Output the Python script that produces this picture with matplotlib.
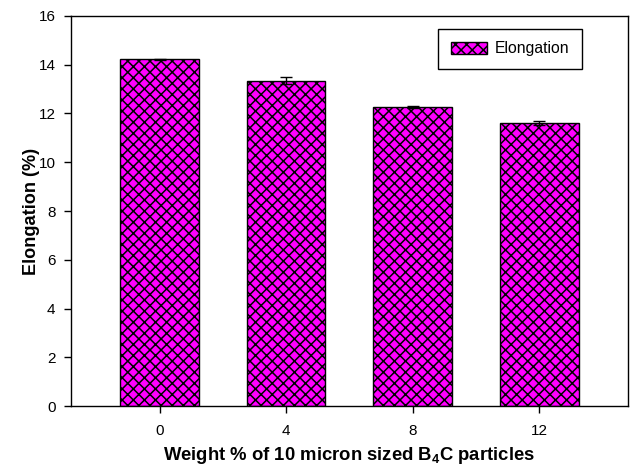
import matplotlib
matplotlib.use('Agg')
import matplotlib.pyplot as plt
import numpy as np

plt.rcParams['font.family'] = ['Liberation Sans', 'DejaVu Sans']
plt.rcParams['mathtext.fontset'] = 'custom'
plt.rcParams['mathtext.rm'] = 'Liberation Sans:bold'
plt.rcParams['mathtext.bf'] = 'Liberation Sans:bold'
plt.rcParams['hatch.linewidth'] = 1.1
plt.rcParams['hatch.color'] = 'black'

weight_pct = ['0', '4', '8', '12']
elongation = [14.22, 13.35, 12.27, 11.61]
elong_err = [0.02, 0.13, 0.03, 0.08]

fig = plt.figure(figsize=(6.33, 4.69), dpi=100)
ax = fig.add_axes([0.112, 0.134, 0.88, 0.832])

x = np.arange(len(weight_pct))
ax.bar(x, elongation, width=0.62, color='#ff00ff', edgecolor='black',
       linewidth=1.0, hatch='xxx', label='Elongation',
       yerr=elong_err, error_kw=dict(ecolor='black', elinewidth=1.0,
                                     capsize=4.5, capthick=1.0))

ax.set_xlim(-0.7, 3.7)
ax.set_ylim(0, 16)
ax.set_yticks(np.arange(0, 17, 2))
ax.set_xticks(x)
ax.set_xticklabels(weight_pct)
ax.tick_params(axis='both', direction='out', length=5, width=1.0,
               labelsize=11, pad=6, colors='black')
ax.tick_params(axis='x', pad=8)
for s in ax.spines.values():
    s.set_linewidth(1.0)

ax.set_xlabel(r'Weight % of 10 micron sized B$_{4}$C particles',
              fontsize=13.3, fontweight='bold', labelpad=5)
ax.set_ylabel('Elongation (%)', fontsize=13.1, fontweight='bold', labelpad=-1)

ax.legend(loc='upper left', bbox_to_anchor=(0.659, 0.967), borderaxespad=0,
          fancybox=False, edgecolor='black', framealpha=1, fontsize=11.3,
          handlelength=2.3, handleheight=0.8, handletextpad=0.5, borderpad=0.8)

fig.savefig('out.png', dpi=100)
